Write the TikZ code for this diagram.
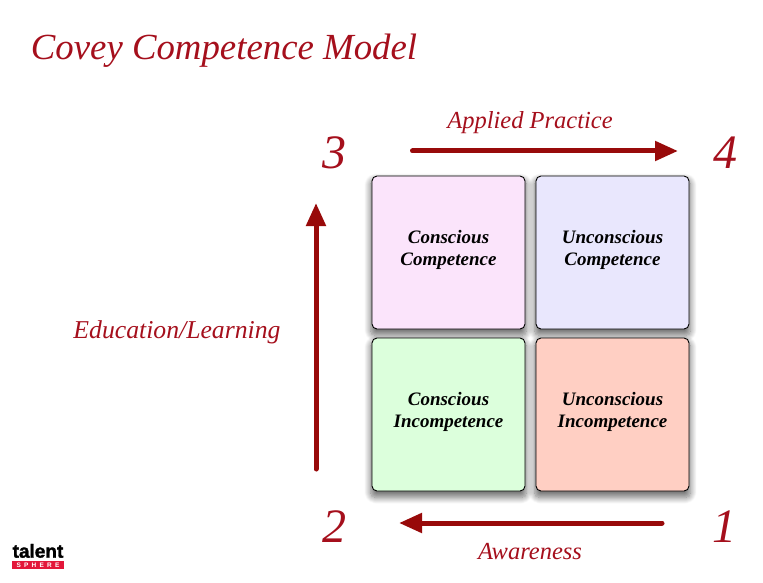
\documentclass[tikz,border=0pt]{standalone}
\usepackage{fontspec}
\setmainfont{Liberation Serif}
\newfontfamily\logofont[BoldFont=*,BoldFeatures={FakeBold=1.6}]{Liberation Sans Bold}
\usepackage{tikz}
\usetikzlibrary{arrows.meta,positioning,shadows.blur}
\usepackage{xcolor}
\definecolor{titlered}{HTML}{A50F1C}
\definecolor{arrowred}{HTML}{980A0A}
\definecolor{logored}{HTML}{E3173A}
\definecolor{pinkbox}{HTML}{FBE4FB}
\definecolor{violetbox}{HTML}{E9E7FD}
\definecolor{greenbox}{HTML}{DCFFDC}
\definecolor{salmonbox}{HTML}{FFCFC3}
\tikzset{
  quadrant/.style={draw=black, line width=0.9pt, rounded corners=5pt, minimum width=153pt, minimum height=153pt,
    inner sep=0pt, blur shadow={shadow xshift=0pt, shadow yshift=-5pt, shadow scale=1.02, shadow blur radius=6pt, shadow blur steps=14, shadow opacity=55}},
  quadtext/.style={inner sep=0pt, align=center, yshift=3pt, font=\fontsize{19}{22}\selectfont\bfseries\itshape},
  corner/.style={font=\fontsize{48}{48}\selectfont\itshape, titlered, inner sep=0pt},
  caption/.style={font=\fontsize{24.5}{26}\selectfont\itshape, titlered, inner sep=0pt},
  progress/.style={arrowred, line width=5pt, line cap=round, -{Triangle[length=23pt,width=19pt]}}
}
\begin{document}
\begin{tikzpicture}[x=1pt, y=-1pt]
  \useasboundingbox (0,0) rectangle (763,583);
  \node[font=\fontsize{36.8}{40}\selectfont\itshape, titlered, inner sep=0pt] (title) at (224,50.5) {Covey Competence Model};
  % Quadrants
  \node[quadrant, fill=pinkbox] (consciouscomp) at (448.5,252.5) {};
  \node[quadrant, fill=violetbox] (unconsciouscomp) at (612.5,252.5) {};
  \node[quadrant, fill=greenbox] (consciousincomp) at (448.5,414.5) {};
  \node[quadrant, fill=salmonbox] (unconsciousincomp) at (612.5,414.5) {};
  \node[quadtext] (cctext) at (consciouscomp) {Conscious\\Competence};
  \node[quadtext] (uctext) at (unconsciouscomp) {Unconscious\\Competence};
  \node[quadtext] (citext) at (consciousincomp) {Conscious\\Incompetence};
  \node[quadtext] (uitext) at (unconsciousincomp) {Unconscious\\Incompetence};
  % Stage numbers
  \node[corner] (stagea) at (724,527) {1};
  \node[corner] (stageb) at (334,527) {2};
  \node[corner] (stagec) at (334,153) {3};
  \node[corner] (staged) at (725,153) {4};
  % Progress arrows
  \coordinate (awarestart) at (662,523);
  \coordinate (awareend) at (399,523);
  \coordinate (learnstart) at (316,469);
  \coordinate (learnend) at (316,203);
  \coordinate (practstart) at (412.5,151);
  \coordinate (practend) at (678,151);
  \draw[progress] (awarestart) -- (awareend);
  \draw[progress] (learnstart) -- (learnend);
  \draw[progress] (practstart) -- (practend);
  \node[caption] (aware) at (530,552) {Awareness};
  \node[caption, font=\fontsize{25.7}{26}\selectfont\itshape] (learn) at (177,332) {Education/Learning};
  \node[caption] (pract) at (530,123) {Applied Practice};
  % Logo
  \node[fill=logored, minimum width=52pt, minimum height=8.5pt, inner sep=0pt, text=white,
    font=\logofont\fontsize{6.5}{6.5}\selectfont] (logobar) at (38,565) {S\,\,\,P\,\,\,H\,\,\,E\,\,\,R\,\,\,E};
  \node[font=\logofont\bfseries\fontsize{19}{19}\selectfont, inner sep=0pt, above=2.5pt of logobar] (logotext) {talent};
\end{tikzpicture}
\end{document}
